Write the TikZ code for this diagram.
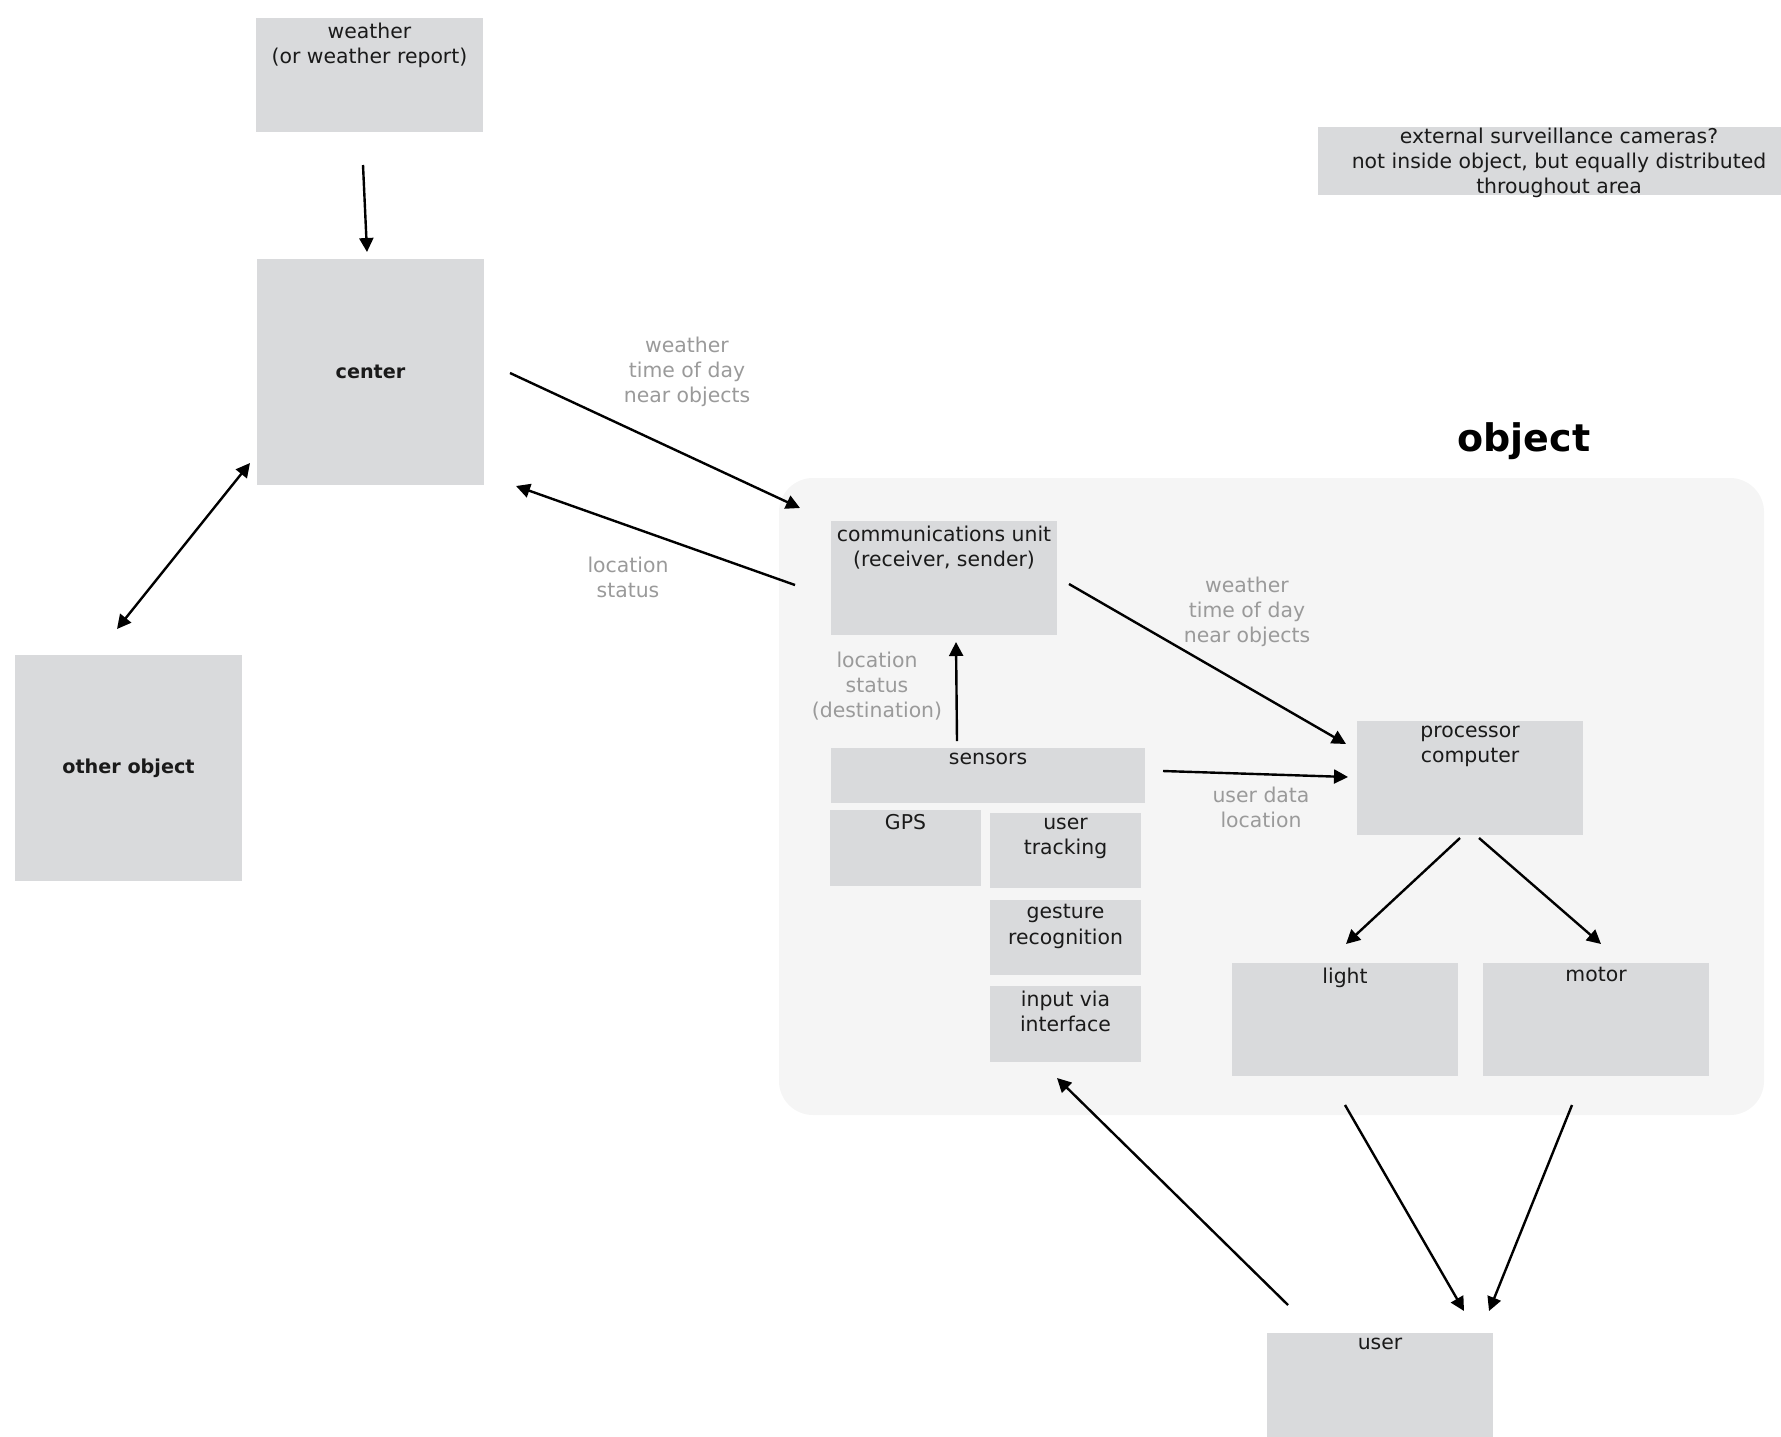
\documentclass[tikz,border=0pt]{standalone}
\usepackage{fontspec}
\setmainfont{DejaVu Sans}
\usetikzlibrary{arrows.meta,calc}
\definecolor{boxgray}{HTML}{D9DADC}
\definecolor{contgray}{HTML}{F5F5F5}
\definecolor{lblgray}{HTML}{9A9A9A}
\definecolor{txt}{HTML}{1A1A1A}
\begin{document}
\begin{tikzpicture}[x=0.5pt,y=-0.5pt,
  box/.style={fill=boxgray, inner sep=0pt, outer sep=0pt, text=txt, align=center},
  tbox/.style={box, label={[anchor=north, inner sep=0.5pt, yshift=-1.6pt, align=center, text=txt, font=\fontsize{10.2}{12.6}\selectfont]north:#1}},
  bold/.style={font=\fontsize{9.6}{12}\selectfont\bfseries},
  lbl/.style={text=lblgray, align=center, font=\fontsize{10.2}{12.6}\selectfont},
  arr/.style={line width=1.2pt, -{Triangle[length=7pt,width=7pt]}},
  darr/.style={line width=1.2pt, {Triangle[length=7pt,width=7pt]}-{Triangle[length=7pt,width=7pt]}},
  font=\fontsize{10.2}{12.6}\selectfont]
\useasboundingbox (0,0) rectangle (1781,1436);

% container
\node[fill=contgray, rounded corners=17pt, minimum width=492.5pt, minimum height=318.5pt, inner sep=0pt] (objcont) at (1271.5,796.5) {};
\node[font=\fontsize{19}{22}\selectfont\bfseries, text=black] (objtitle) at (1524,441) {object};

% boxes
\node[tbox={weather\\(or weather report)}, minimum width=113.5pt, minimum height=57pt] (weather) at (369.5,75) {};
\node[box, bold, minimum width=113.5pt, minimum height=113pt] (center) at (370.5,372) {center};
\node[box, bold, minimum width=113.5pt, minimum height=113pt] (other) at (128.5,768) {other object};
\node[box, minimum width=241pt, minimum height=34pt, text depth=0pt] (cams) at (1559,161) {};
\node[text=txt, align=center, anchor=center] (camstxt) at (1559,163) {external surveillance cameras?\\not inside object, but equally distributed\\throughout area};

\node[tbox={communications unit\\(receiver, sender)}, minimum width=113pt, minimum height=57pt] (comm) at (944,578) {};
\node[tbox={sensors}, minimum width=157pt, minimum height=27.5pt] (sensors) at (988,775.5) {};
\node[tbox={GPS}, minimum width=75.5pt, minimum height=38pt] (gps) at (905.5,848) {};
\node[tbox={user\\tracking}, minimum width=75.5pt, minimum height=37.5pt] (track) at (1065.5,850.5) {};
\node[tbox={gesture\\recognition}, minimum width=75.5pt, minimum height=37.5pt] (gesture) at (1065.5,937.5) {};
\node[tbox={input via\\interface}, minimum width=75.5pt, minimum height=38pt] (input) at (1065.5,1024) {};
\node[tbox={processor\\computer}, minimum width=113pt, minimum height=57pt] (proc) at (1470,778) {};
\node[tbox={light}, minimum width=113pt, minimum height=56.5pt] (light) at (1345,1019.5) {};
\node[tbox={motor}, minimum width=113pt, minimum height=56.5pt] (motor) at (1596,1019.5) {};
\node[tbox={user}, minimum width=113pt, minimum height=57pt] (user) at (1380,1390) {};

% labels
\node[lbl] (l1) at (687,372) {weather\\time of day\\near objects};
\node[lbl] (l2) at (628,577) {location\\status};
\node[lbl] (l3) at (1247,612) {weather\\time of day\\near objects};
\node[lbl] (l4) at (877,686) {location\\status\\(destination)};
\node[lbl] (l5) at (1261,807) {user data\\location};

% connectors
\draw[arr] ($(weather.south)+(-6.5,33)$) -- ($(center.north)+(-3.5,-7)$);
\draw[arr] ($(center.east)+(26,1)$) -- ($(comm.north west)+(-31,-13)$);
\draw[arr] ($(comm.west)+(-36,7)$) -- ($(center.south east)+(32,1)$);
\draw[darr] ($(center.south west)+(-7,-22)$) -- ($(other.north)+(-11.5,-26)$);
\draw[arr] ($(comm.east)+(12,6)$) -- ($(proc.north west)+(-11,23)$);
\draw[arr] ($(sensors.north)+(-31,-7)$) -- ($(comm.south)+(12,7)$);
\draw[arr] ($(sensors.east)+(18,-4.5)$) -- ($(proc.west)+(-9,-1)$);
\draw[arr] ($(proc.south)+(-10,3)$) -- ($(light.north)+(1,-19)$);
\draw[arr] ($(proc.south)+(9,3)$) -- ($(motor.north)+(5,-19)$);
\draw[arr] ($(light.south)+(0,29)$) -- ($(user.north east)+(-29,-22)$);
\draw[arr] ($(motor.south)+(-24,29)$) -- ($(user.north east)+(-4,-22)$);
\draw[arr] ($(user.north west)+(21,-28)$) -- ($(input.south)+(-8.5,16)$);
\end{tikzpicture}
\end{document}
